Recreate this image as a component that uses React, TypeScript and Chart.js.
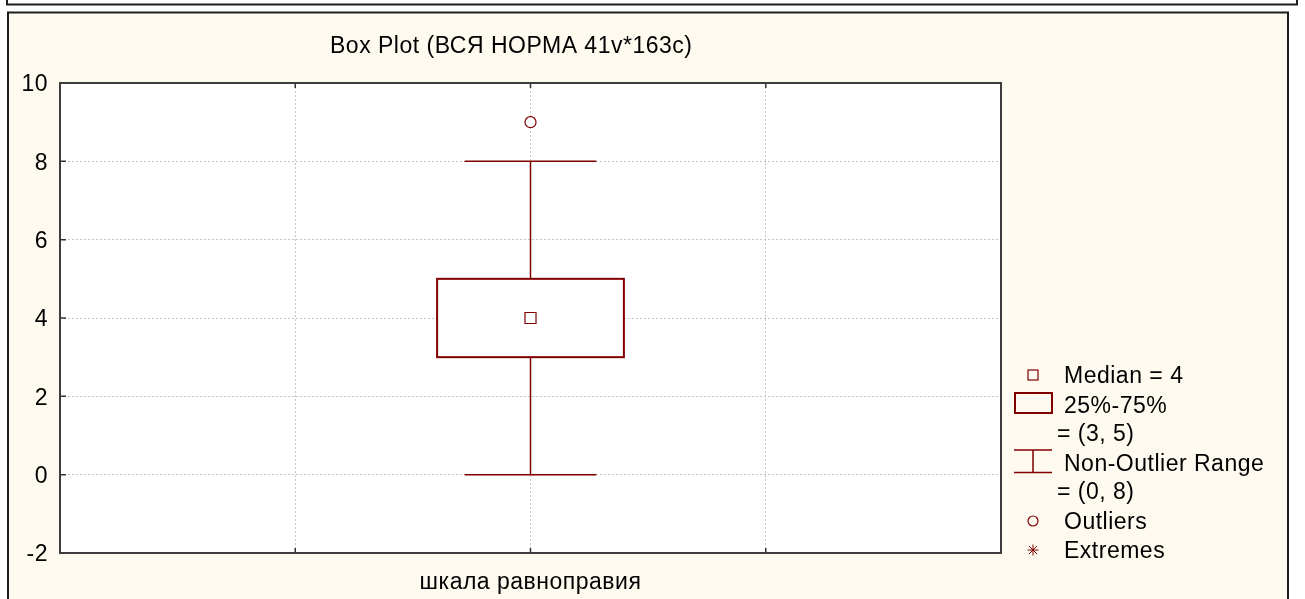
import React, { useEffect, useRef } from 'react';
import { Chart, registerables } from 'chart.js';

Chart.register(...registerables);

// ---- data ----
const categories = ['шкала равноправия'];
const medians = [4];
const q1 = [3];
const q3 = [5];
const whiskerLow = [0];
const whiskerHigh = [8];
const outliers = [[9]];
const extremes: number[][] = [[]];
const yTicks = [-2, 0, 2, 4, 6, 8, 10];
const xTicks = [-2, -1, 0, 1, 2];
const chartTitle = 'Box Plot (ВСЯ НОРМА 41v*163c)';

// ---- styles ----
const FONT = '"Liberation Sans", Arial, sans-serif';
const FONT_SIZE = 23;
const LS = '0.5px';
const DARK_RED = '#800000';
const CREAM = '#fffaf0';
const W = 1305;
const H = 599;

const setLS = (chart: any) => {
  try {
    chart.ctx.letterSpacing = LS;
  } catch (e) {}
};

const framePlugin = {
  id: 'framePlugin',
  beforeInit(chart: any) { setLS(chart); },
  beforeUpdate(chart: any) { setLS(chart); },
  beforeLayout(chart: any) { setLS(chart); },
  beforeDraw(chart: any) {
    const { ctx, chartArea: a } = chart;
    ctx.save();
    ctx.fillStyle = '#ffffff';
    ctx.fillRect(0, 0, chart.width, chart.height);
    ctx.strokeStyle = '#1e1e1e';
    ctx.lineWidth = 2;
    // upper panel (bottom edge visible)
    ctx.beginPath();
    ctx.moveTo(7, -4);
    ctx.lineTo(7, 4.5);
    ctx.lineTo(1297, 4.5);
    ctx.lineTo(1297, -4);
    ctx.stroke();
    // main panel
    ctx.fillStyle = CREAM;
    ctx.fillRect(8, 12, 1280, H);
    ctx.beginPath();
    ctx.moveTo(8, H + 10);
    ctx.lineTo(8, 12.5);
    ctx.lineTo(1288, 12.5);
    ctx.lineTo(1288, H + 10);
    ctx.stroke();
    // plot background
    ctx.fillStyle = '#ffffff';
    ctx.fillRect(a.left, a.top, a.right - a.left, a.bottom - a.top);
    ctx.restore();
    setLS(chart);
  },
  beforeDatasetsDraw(chart: any) {
    const { ctx } = chart;
    const xs = chart.scales.x;
    const ys = chart.scales.y;
    const unit = xs.getPixelForValue(1) - xs.getPixelForValue(0);
    ctx.save();
    ctx.strokeStyle = DARK_RED;
    categories.forEach((_, i) => {
      const cx = xs.getPixelForValue(i);
      const yLo = ys.getPixelForValue(whiskerLow[i]);
      const yHi = ys.getPixelForValue(whiskerHigh[i]);
      const yQ1 = ys.getPixelForValue(q1[i]);
      const yQ3 = ys.getPixelForValue(q3[i]);
      const capHalf = unit * 0.28;
      const boxHalf = unit * 0.397;
      ctx.lineWidth = 1.5;
      ctx.beginPath();
      ctx.moveTo(cx, yHi);
      ctx.lineTo(cx, yQ3);
      ctx.moveTo(cx, yQ1);
      ctx.lineTo(cx, yLo);
      ctx.moveTo(cx - capHalf, yHi);
      ctx.lineTo(cx + capHalf, yHi);
      ctx.moveTo(cx - capHalf, yLo);
      ctx.lineTo(cx + capHalf, yLo);
      ctx.stroke();
      ctx.lineWidth = 2;
      ctx.fillStyle = '#ffffff';
      ctx.fillRect(cx - boxHalf, yQ3, boxHalf * 2, yQ1 - yQ3);
      ctx.strokeRect(cx - boxHalf, yQ3, boxHalf * 2, yQ1 - yQ3);
    });
    ctx.restore();
  },
  afterDraw(chart: any) {
    const { ctx, chartArea: a } = chart;
    const xs = chart.scales.x;
    const ys = chart.scales.y;
    ctx.save();
    setLS(chart);
    // inside ticks
    ctx.strokeStyle = '#333333';
    ctx.lineWidth = 1.5;
    ctx.beginPath();
    ys.ticks.forEach((t: any) => {
      if (t.value <= ys.min || t.value >= ys.max) return;
      const py = ys.getPixelForValue(t.value);
      ctx.moveTo(a.left, py);
      ctx.lineTo(a.left + 6, py);
    });
    xs.ticks.forEach((t: any) => {
      if (t.value <= xs.min || t.value >= xs.max) return;
      const px = xs.getPixelForValue(t.value);
      ctx.moveTo(px, a.bottom);
      ctx.lineTo(px, a.bottom - 5);
      ctx.moveTo(px, a.top);
      ctx.lineTo(px, a.top + 5);
    });
    ctx.stroke();
    // plot frame
    ctx.strokeStyle = '#3c3c3c';
    ctx.lineWidth = 2;
    ctx.strokeRect(a.left, a.top, a.right - a.left, a.bottom - a.top);

    // title
    ctx.fillStyle = '#000000';
    ctx.font = `${FONT_SIZE}px ${FONT}`;
    ctx.textAlign = 'left';
    ctx.textBaseline = 'alphabetic';
    ctx.fillText(chartTitle, 330, 52.5);

    // legend
    const lx = 1064;
    const mx = 1033;
    ctx.fillText(`Median = ${medians[0]}`, lx, 382.5);
    ctx.fillText('25%-75%', lx, 412.5);
    ctx.fillText(`= (${q1[0]}, ${q3[0]})`, 1057, 440.5);
    ctx.fillText('Non-Outlier Range', lx, 470.5);
    ctx.fillText(`= (${whiskerLow[0]}, ${whiskerHigh[0]})`, 1057, 498.5);
    ctx.fillText('Outliers', lx, 528.5);
    ctx.fillText('Extremes', lx, 557.5);

    ctx.strokeStyle = DARK_RED;
    // median square
    ctx.lineWidth = 1.2;
    ctx.strokeRect(mx - 5, 375 - 5, 10, 10);
    // box
    ctx.lineWidth = 2;
    ctx.strokeRect(1015, 393, 37, 20);
    // whisker
    ctx.lineWidth = 1.5;
    ctx.beginPath();
    ctx.moveTo(1014, 450);
    ctx.lineTo(1052, 450);
    ctx.moveTo(mx, 450);
    ctx.lineTo(mx, 472.5);
    ctx.moveTo(1014, 472.5);
    ctx.lineTo(1052, 472.5);
    ctx.stroke();
    // outlier circle
    ctx.lineWidth = 1.2;
    ctx.beginPath();
    ctx.arc(mx, 521, 5, 0, Math.PI * 2);
    ctx.stroke();
    // extremes star
    const sy = 550;
    const r = 5.5;
    const d = r * 0.72;
    ctx.lineWidth = 1;
    ctx.beginPath();
    ctx.moveTo(mx - r, sy);
    ctx.lineTo(mx + r, sy);
    ctx.moveTo(mx, sy - r);
    ctx.lineTo(mx, sy + r);
    ctx.moveTo(mx - d, sy - d);
    ctx.lineTo(mx + d, sy + d);
    ctx.moveTo(mx - d, sy + d);
    ctx.lineTo(mx + d, sy - d);
    ctx.stroke();
    ctx.restore();
  },
};

export default function App() {
  const ref = useRef<HTMLCanvasElement | null>(null);

  useEffect(() => {
    if (!ref.current) return;
    const chart = new Chart(ref.current, {
      type: 'scatter',
      data: {
        datasets: [
          {
            label: 'Median',
            data: medians.map((m, i) => ({ x: i, y: m })),
            pointStyle: 'rect',
            pointRadius: 7.8,
            pointHoverRadius: 7.8,
            borderColor: DARK_RED,
            backgroundColor: '#ffffff',
            borderWidth: 1.2,
          },
          {
            label: 'Outliers',
            data: outliers.flatMap((arr, i) => arr.map((v) => ({ x: i, y: v }))),
            pointStyle: 'circle',
            pointRadius: 5.5,
            pointHoverRadius: 5.5,
            borderColor: DARK_RED,
            backgroundColor: '#ffffff',
            borderWidth: 1.2,
          },
          {
            label: 'Extremes',
            data: extremes.flatMap((arr, i) => arr.map((v) => ({ x: i, y: v }))),
            pointStyle: 'star',
            pointRadius: 5.5,
            borderColor: DARK_RED,
            borderWidth: 1,
          },
        ],
      },
      options: {
        responsive: false,
        animation: false,
        events: [],
        layout: { padding: { left: 0, top: 83, right: W - 1001, bottom: 0 } },
        plugins: {
          legend: { display: false },
          tooltip: { enabled: false },
          title: { display: false },
        },
        scales: {
          x: {
            type: 'linear',
            min: -2,
            max: 2,
            afterBuildTicks: (s: any) => {
              s.ticks = xTicks.map((v) => ({ value: v }));
            },
            afterFit: (s: any) => {
              s.height = H - 553;
            },
            ticks: {
              autoSkip: false,
              maxRotation: 0,
              padding: 16,
              color: '#000000',
              font: { family: FONT, size: FONT_SIZE },
              callback: (v: any) => {
                const n = Number(v);
                return Number.isInteger(n) && n >= 0 && n < categories.length ? categories[n] : '';
              },
            },
            grid: { color: '#c4c4c4', lineWidth: 1, drawTicks: false },
            border: { display: false, dash: [2, 2] },
          },
          y: {
            type: 'linear',
            min: -2,
            max: 10,
            afterBuildTicks: (s: any) => {
              s.ticks = yTicks.map((v) => ({ value: v }));
            },
            afterFit: (s: any) => {
              s.width = 60;
            },
            ticks: {
              padding: 12,
              labelOffset: 2,
              color: '#000000',
              font: { family: FONT, size: FONT_SIZE },
              callback: (v: any) => String(v),
            },
            grid: { color: '#c4c4c4', lineWidth: 1, drawTicks: false },
            border: { display: false, dash: [2, 2] },
          },
        },
      },
      plugins: [framePlugin],
    } as any);
    return () => chart.destroy();
  }, []);

  return (
    <canvas
      ref={ref}
      width={W}
      height={H}
      style={{ position: 'fixed', left: 0, top: 0, display: 'block', width: W, height: H }}
    />
  );
}
